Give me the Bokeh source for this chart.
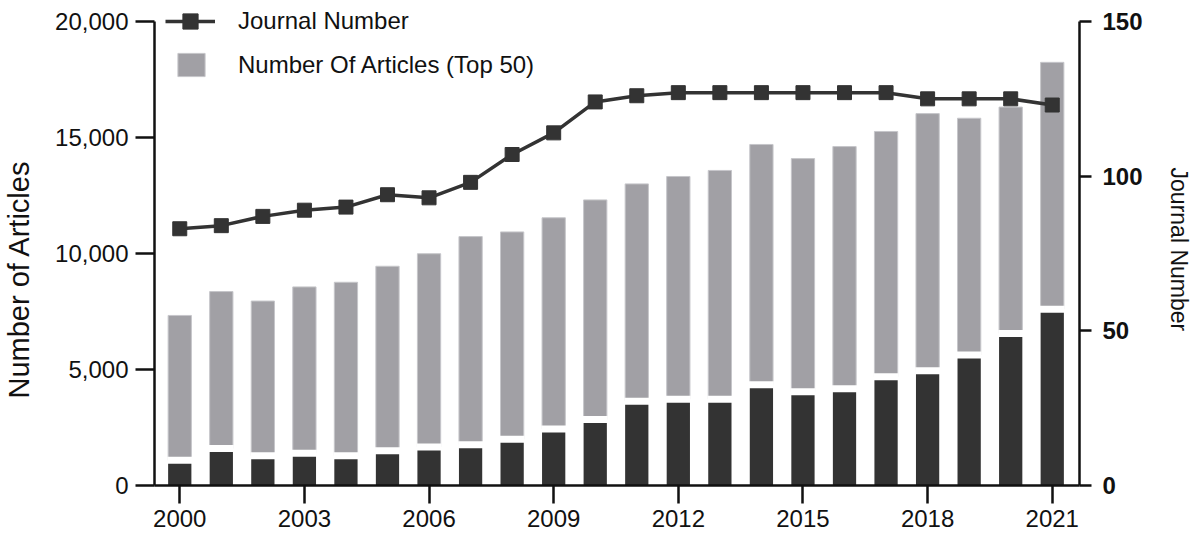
from bokeh.plotting import figure
from bokeh.models import (Range1d, LinearAxis, FixedTicker, NumeralTickFormatter,
                          Legend, LegendItem)
from bokeh.embed import file_html
from bokeh.resources import INLINE

years = list(range(2000, 2022))
total_articles = [7330, 8360, 7950, 8560, 8760, 9450, 9990, 10730, 10930, 11540, 12310,
                  13000, 13320, 13580, 14700, 14090, 14610, 15260, 16030, 15830, 16310, 18240]
top_split = [1085, 1590, 1285, 1390, 1285, 1495, 1660, 1760, 1990, 2435, 2845,
             3630, 3720, 3720, 4340, 4040, 4165, 4685, 4950, 5625, 6550, 7600]
journal_number = [83, 84, 87, 89, 90, 94, 93, 98, 107, 114, 124,
                  126, 127, 127, 127, 127, 127, 127, 125, 125, 125, 123]
x_ticks = [2000, 2003, 2006, 2009, 2012, 2015, 2018, 2021]
left_ticks = [0, 5000, 10000, 15000, 20000]
right_ticks = [0, 50, 100, 150]

DARK = "#333333"
GRAY = "#a1a0a5"
FONT = "Liberation Sans"

# frame spans the full top of the figure so the legend is not clipped;
# the axes are bounded to their tick range
FRAME_H = 485
LEFT_MAX = 20000 * FRAME_H / 464.0
RIGHT_MAX = 150 * FRAME_H / 464.0

p = figure(width=1200, height=543, output_backend="svg", toolbar_location=None,
           x_range=Range1d(1999.392, 2021.656), y_range=Range1d(0, LEFT_MAX),
           min_border_left=152, min_border_right=121, min_border_top=0,
           min_border_bottom=58)
p.extra_y_ranges = {"jn": Range1d(0, RIGHT_MAX)}
p.grid.visible = False
p.outline_line_color = None
p.background_fill_color = "white"

bw = 0.56
dark_r = p.vbar(x=years, bottom=0, top=top_split, width=bw, fill_color=DARK, line_color=None)
gray_r = p.vbar(x=years, bottom=top_split, top=total_articles, width=bw, fill_color=GRAY,
                line_color="#c6c6ca", line_width=1)
p.rect(x=years, y=top_split, width=bw + 0.04, height=7, height_units="screen",
       fill_color="white", line_color=None)

line_r = p.line(x=years, y=journal_number, y_range_name="jn", line_width=3.5, line_color=DARK)
sc_r = p.scatter(x=years, y=journal_number, y_range_name="jn", marker="square", size=14,
                 fill_color=DARK, line_color=DARK)

# left axis
yl = p.yaxis[0]
yl.ticker = FixedTicker(ticks=left_ticks)
yl.formatter = NumeralTickFormatter(format="0,0")
yl.bounds = (left_ticks[0], left_ticks[-1])
yl.axis_label = "Number of Articles" + "\u00a0" * 9

# right axis
yr = LinearAxis(y_range_name="jn", ticker=FixedTicker(ticks=right_ticks),
                axis_label="\u00a0" * 2 + "Journal Number",
                bounds=(right_ticks[0], right_ticks[-1]))
p.add_layout(yr, "right")

xa = p.xaxis[0]
xa.ticker = FixedTicker(ticks=x_ticks)

for ax in [xa, yl, yr]:
    ax.axis_line_width = 2.5
    ax.axis_line_color = "#111111"
    ax.major_tick_line_width = 2.5
    ax.major_tick_line_color = "#111111"
    ax.minor_tick_line_color = None
    ax.major_tick_in = 0
    ax.major_label_text_font = FONT
    ax.major_label_text_color = "#111111"
    ax.axis_label_text_font = FONT
    ax.axis_label_text_font_style = "normal"
    ax.axis_label_text_color = "#111111"

xa.major_tick_out = 18
xa.major_label_standoff = 6
xa.major_label_text_font_size = "24px"

yl.major_tick_out = 19
yl.major_label_standoff = 7
yl.major_label_text_font_size = "24px"
yl.axis_label_text_font_size = "29px"
yl.axis_label_standoff = 17

yr.major_tick_out = 12
yr.major_label_standoff = 11
yr.major_label_text_font_size = "24px"
yr.major_label_text_font_style = "bold"
yr.axis_label_text_font_size = "23px"
yr.axis_label_standoff = 20

common = dict(padding=0, margin=0, spacing=0, border_line_alpha=0,
              background_fill_alpha=0, label_text_font_size="24px",
              label_text_font=FONT, label_text_color="#111111")
leg1 = Legend(items=[LegendItem(label="Journal Number", renderers=[line_r, sc_r])],
              location=(11, 445), glyph_width=50, glyph_height=38, label_standoff=23,
              **common)
leg2 = Legend(items=[LegendItem(label="Number Of Articles (Top 50)", renderers=[gray_r])],
              location=(20, 406), glyph_width=34, glyph_height=29, label_standoff=30,
              **common)
p.add_layout(leg1)
p.add_layout(leg2)

open("out.html", "w").write(file_html(p, INLINE))
